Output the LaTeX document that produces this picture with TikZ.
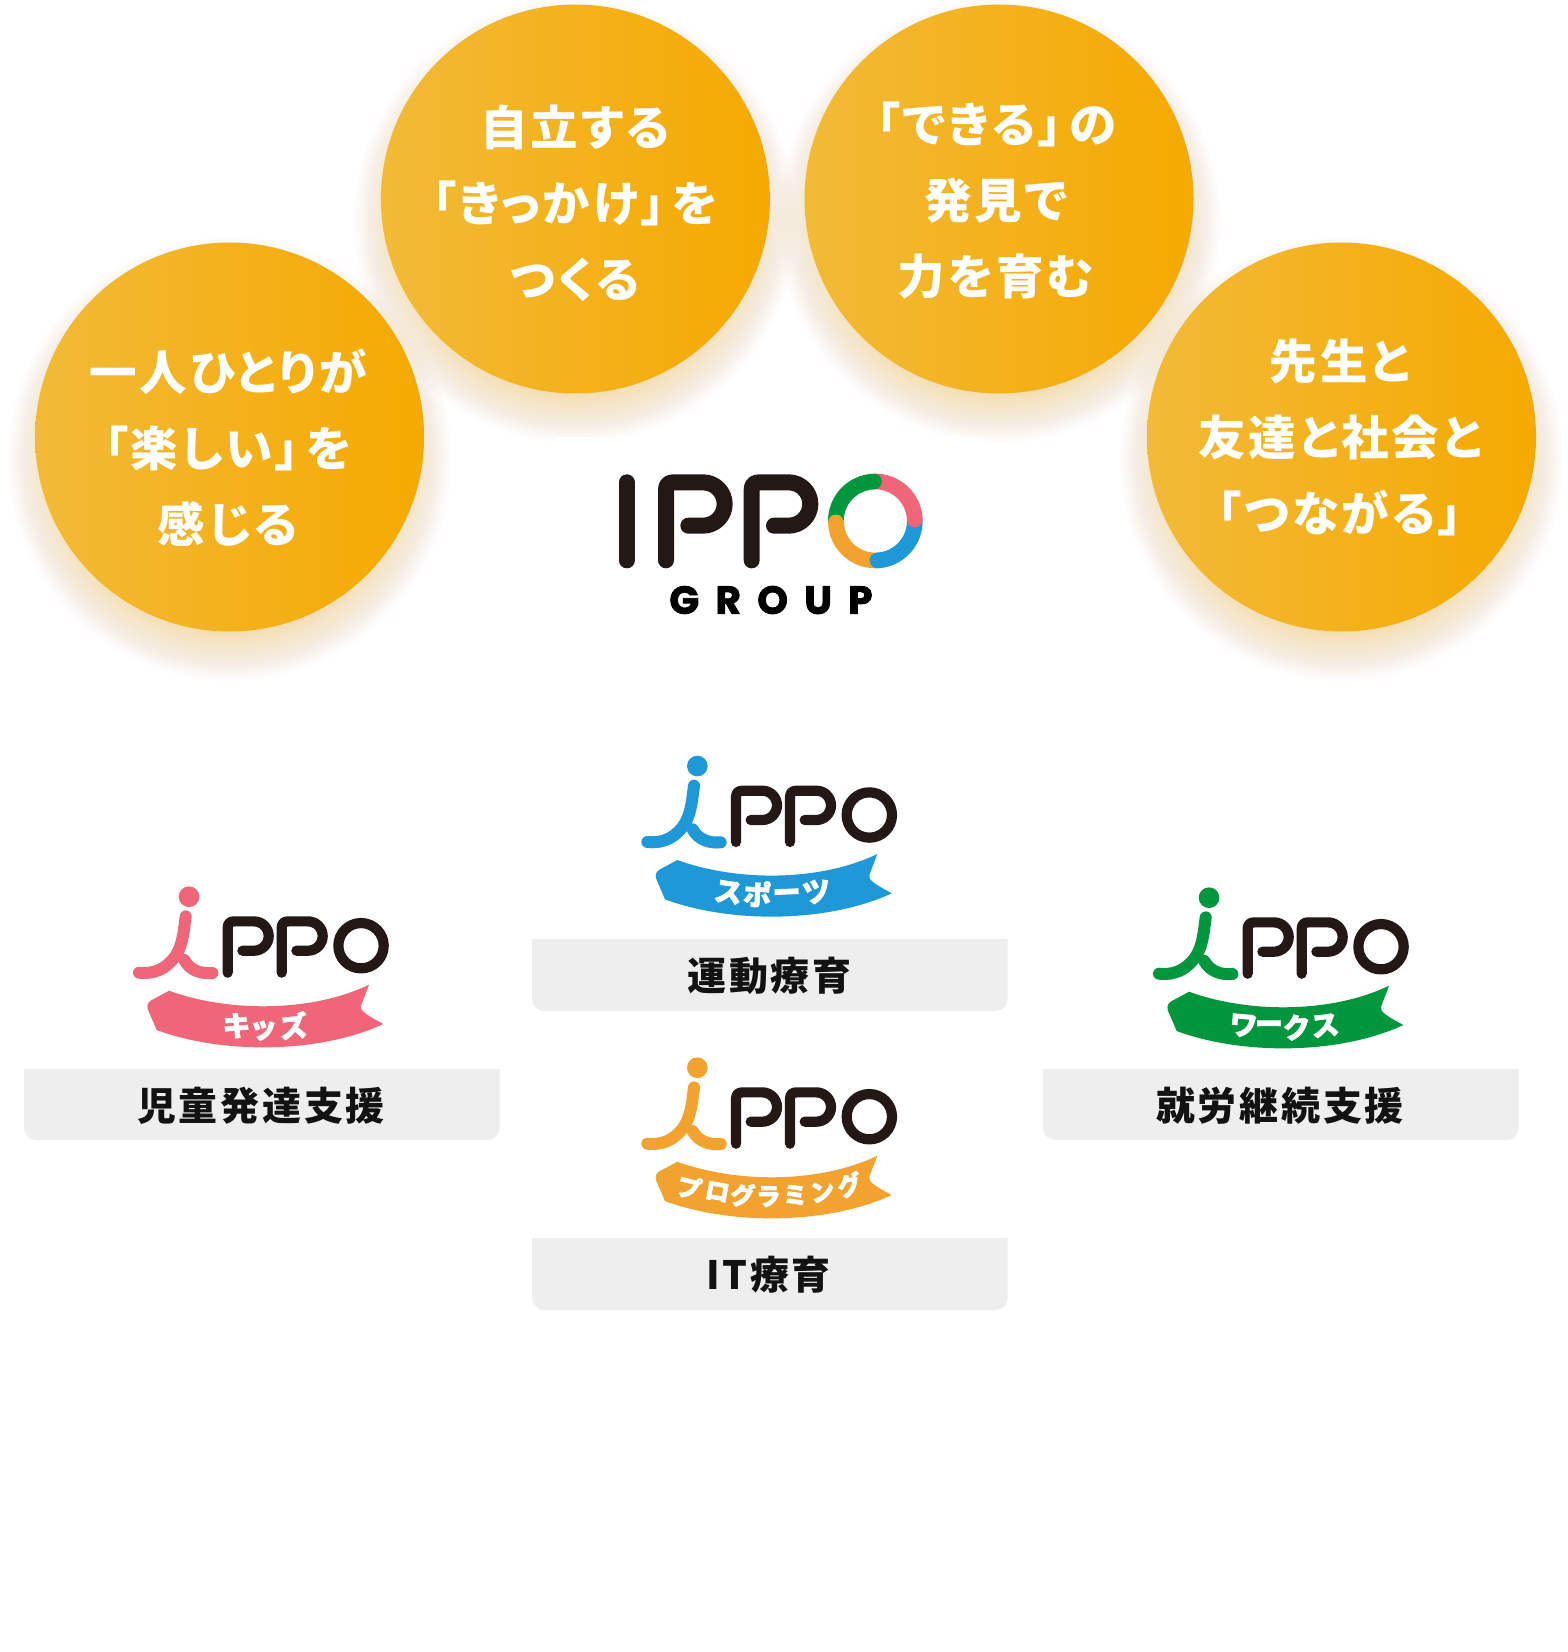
\documentclass[tikz,border=0pt]{standalone}
\usepackage{fontspec}
\setmainfont{Noto Sans CJK JP}
\newfontfamily\jpbub[RawFeature=+palt,LetterSpace=6]{Noto Sans CJK JP}
\newfontfamily\jppan[LetterSpace=7]{Noto Sans CJK JP}
\newfontfamily\jprib[BoldFeatures={FakeBold=2.5}]{Noto Sans CJK JP}
\newfontfamily\grpfont[BoldFeatures={FakeBold=2.2},LetterSpace=42]{Poppins}
\definecolor{ipdark}{HTML}{231815}
\definecolor{ipblue}{HTML}{1E98D7}
\definecolor{ippink}{HTML}{EE6677}
\definecolor{iporange}{HTML}{F2A22F}
\definecolor{ipgreen}{HTML}{00963D}
\definecolor{panelgray}{HTML}{EEEEEE}
\definecolor{bubleft}{HTML}{F2BA38}
\definecolor{bubright}{HTML}{F5A900}
\definecolor{glowcol}{HTML}{F59A10}
\tikzset{
  bubble/.style={circle,minimum size=389pt,inner sep=0pt,left color=bubleft,right color=bubright,draw=none},
  bubbletext/.style={text=white,align=center,font=\jpbub\bfseries\fontsize{47.5}{76}\selectfont,inner sep=0pt},
  paneltext/.style={text=black!93,font=\jppan\bfseries\fontsize{39}{44}\selectfont,inner sep=0pt},
  grouptext/.style={text=black,font=\grpfont\bfseries\fontsize{39}{44}\selectfont,inner sep=0pt},
  ribchar/.style={text=white,font=\jprib\bfseries\fontsize{#1}{#1}\selectfont,inner sep=0pt},
  wordstroke/.style={draw=ipdark,line cap=round,line join=round,fill=none},
}
\newcommand{\glowat}[2]{%
  \foreach \gi in {0,...,24}{%
    \fill[glowcol,opacity=.012] (#1,#2+22) circle[radius=222-2*\gi];
  }%
}
\newcommand{\ippologo}[5]{%
  \begin{scope}[shift={(#1,#2)},x=0.33333pt,y=-0.33333pt]
    \fill[#3] (232,78) circle[radius=31];
    \draw[#3,line width=12pt,line cap=round] (222,137) .. controls (215,190) and (212,240) .. (175,275) .. controls (145,305) and (110,309) .. (82,306);
    \draw[#3,line width=12pt,line cap=round] (218,268) .. controls (235,300) and (270,310) .. (302,307);
    \draw[wordstroke,line width=10.2pt] (348,306) -- (348,172) .. controls (348,158) and (355,152) .. (368,152) -- (427,152) arc[start angle=-90,end angle=90,radius=44] -- (392,240);
    \draw[wordstroke,line width=10.2pt] (510,306) -- (510,172) .. controls (510,158) and (517,152) .. (530,152) -- (589,152) arc[start angle=-90,end angle=90,radius=44] -- (554,240);
    \draw[wordstroke,line width=10.2pt] (748,225) circle[radius=68];
    \fill[#3] (172,360) .. controls (350,425) and (600,425) .. (772,342) -- (748,405) .. controls (745,420) and (760,430) .. (815,460) .. controls (620,550) and (330,550) .. (135,478) -- (108,415) .. controls (105,400) and (110,395) .. (120,388) -- cycle;
    \foreach \cx/\cy/\cr/\ch in {#5}{%
      \node[ribchar=#4,rotate=\cr] at (\cx,\cy) {\ch};
    }
  \end{scope}%
}
\newcommand{\panelbox}[4]{%
  \fill[panelgray] (#1,#2) -- (#3,#2) [rounded corners=12pt] -- (#3,#4) -- (#1,#4) [sharp corners] -- (#1,#2) -- cycle;
}
\begin{document}
\begin{tikzpicture}[x=1pt,y=-1pt]
\useasboundingbox (0,0) rectangle (1568,1652);
\fill[white] (0,0) rectangle (1568,1652);
\glowat{229.6}{437}
\glowat{575.4}{199}
\glowat{999}{199}
\glowat{1341.5}{437}
\fill[white,rounded corners=10pt] (550,437) rectangle (990,690);
\node[bubble] (b1) at (229.6,437) {};
\node[bubble] (b2) at (575.4,199) {};
\node[bubble] (b3) at (999,199) {};
\node[bubble] (b4) at (1341.5,437) {};
\node[bubbletext] (t1) at (228,448) {一人ひとりが\\「楽しい」\hspace{7pt}を\\感じる};
\node[bubbletext] (t2) at (575,203) {自立する\\「きっかけ」\hspace{7pt}を\\つくる};
\node[bubbletext] (t3) at (996,201) {「できる」\hspace{7pt}の\\発見で\\力を育む};
\node[bubbletext] (t4) at (1340,437) {先生と\\友達と社会と\\「つながる」};
\begin{scope}[shift={(580,440)},x=0.33333pt,y=-0.33333pt]
  \draw[wordstroke,line width=16pt] (140,127) -- (140,361);
  \draw[wordstroke,line width=16pt] (258,361) -- (258,150) .. controls (258,135) and (265,127) .. (280,127) -- (369,127) arc[start angle=-90,end angle=90,radius=65] -- (325,257);
  \draw[wordstroke,line width=16pt] (515,361) -- (515,150) .. controls (515,135) and (522,127) .. (537,127) -- (626,127) arc[start angle=-90,end angle=90,radius=65] -- (582,257);
  \draw[ipgreen,line width=15.7pt] (886,243) ++(-182:118.5) arc[start angle=-182,end angle=-92,radius=118.5];
  \draw[ippink,line width=15.7pt] (886,243) ++(-92:118.5) arc[start angle=-92,end angle=-2,radius=118.5];
  \draw[ipblue,line width=15.7pt] (886,243) ++(-2:118.5) arc[start angle=-2,end angle=87,radius=118.5];
  \draw[iporange,line width=15.7pt] (886,243) ++(87:118.5) arc[start angle=87,end angle=178,radius=118.5];
  \fill[ipgreen] (886,243) ++(-92:118.5) circle[radius=23.5];
  \fill[ippink] (886,243) ++(-2:118.5) circle[radius=23.5];
  \fill[ipblue] (886,243) ++(87:118.5) circle[radius=23.5];
  \fill[iporange] (886,243) ++(178:118.5) circle[radius=23.5];
\end{scope}
\node[grouptext] (grp) at (771,600) {GROUP};
\panelbox{532}{939}{1007.5}{1011}
\panelbox{24}{1069}{499.5}{1140}
\panelbox{1043}{1069}{1518.5}{1140}
\panelbox{532}{1238}{1007.5}{1310}
\node[paneltext] (p1) at (769.5,976) {運動療育};
\node[paneltext] (p2) at (261,1106) {児童発達支援};
\node[paneltext] (p3) at (1280,1106) {就労継続支援};
\node[paneltext] (p4) at (768.5,1275) {IT療育};
\ippologo{620}{740}{ipblue}{28}{325/457/-8/ス,412/462/-3/ポ,500/467/2/ー,590/455/8/ツ}
\ippologo{111.7}{870.7}{ippink}{28}{375/465/-5/キ,455/480/0/ッ,545/465/6/ズ}
\ippologo{1131.7}{871.7}{ipgreen}{28}{335/462/-5/ワ,412/467/0/ー,495/467/3/ク,580/462/7/ス}
\ippologo{620}{1041.7}{iporange}{24.5}{208/437/-14/プ,292/450/-10/ロ,368/460/-6/グ,445/465/0/ラ,525/460/5/ミ,607/450/10/ン,688/430/15/グ}
\end{tikzpicture}
\end{document}
